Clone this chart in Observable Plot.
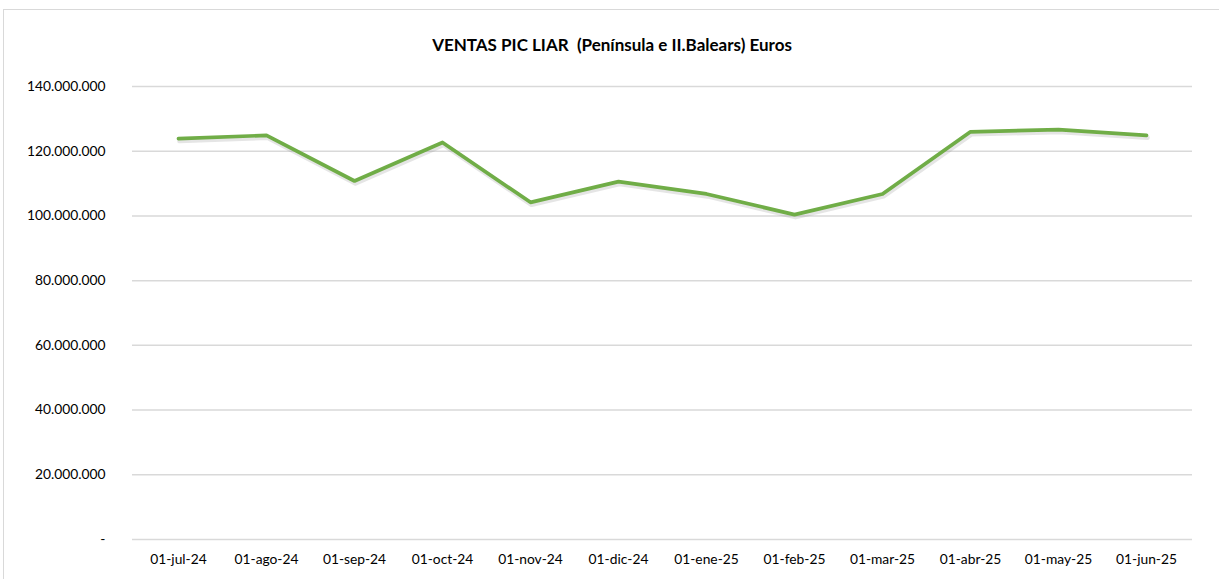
<!DOCTYPE html>
<html>
<head>
<meta charset="utf-8">
<script src="https://cdn.jsdelivr.net/npm/d3@7"></script>
<script src="https://cdn.jsdelivr.net/npm/@observablehq/plot@0.6"></script>
<style>
  html, body { margin: 0; padding: 0; background: #fff; }
  #wrap { position: relative; width: 1219px; height: 579px; overflow: hidden; }
  #frame { position: absolute; left: 3px; top: 9px; width: 1230px; height: 600px; border: 1px solid #d9d9d9; box-sizing: border-box; }
  #title { position: absolute; left: 0; top: 34px; width: 1224px; text-align: center;
           font-family: Lato, "Open Sans", sans-serif; font-weight: bold; font-size: 17px; color: #000; white-space: pre; }
  #chart { position: absolute; left: 0; top: 0; }
</style>
</head>
<body>
<div id="wrap">
  <div id="frame"></div>
  <div id="chart"></div>
  <div id="title">VENTAS PIC LIAR  (Península e II.Balears) Euros</div>
</div>
<script>
const months = ["01-jul-24","01-ago-24","01-sep-24","01-oct-24","01-nov-24","01-dic-24",
                "01-ene-25","01-feb-25","01-mar-25","01-abr-25","01-may-25","01-jun-25"];
const ventas = [123900000,124900000,110800000,122700000,104200000,110600000,
                106800000,100400000,106800000,126000000,126700000,124900000];
const yTicks = [0,20000000,40000000,60000000,80000000,100000000,120000000,140000000];

const data = months.map((m, i) => ({mes: m, valor: ventas[i]}));
const fmt = v => v === 0 ? "-" : d3.format(",")(v).replace(/,/g, ".");

const chart = Plot.plot({
  width: 1219,
  height: 579,
  marginLeft: 132,
  marginRight: 27,
  marginTop: 86,
  marginBottom: 40,
  style: { fontFamily: "Lato, 'Open Sans', sans-serif", fontSize: "13.8px", color: "#000", background: "transparent" },
  x: { type: "band", domain: months, padding: 0, label: null },
  y: { domain: [0, 140000000], label: null },
  marks: [
    Plot.gridY(yTicks, { stroke: "#d9d9d9", strokeOpacity: 1, strokeWidth: 1.5 }),
    Plot.axisY(yTicks, { tickSize: 0, tickPadding: 27, tickFormat: fmt, fill: "#000", label: null }),
    Plot.axisX({ tickSize: 0, tickPadding: 15, fill: "#000", label: null }),
    Plot.line(data, { x: "mes", y: "valor", stroke: "#888", strokeOpacity: 0.22, strokeWidth: 4.5, dx: 1, dy: 2.5, curve: "linear" }),
    Plot.line(data, { x: "mes", y: "valor", stroke: "#70AD47", strokeWidth: 3.7, strokeLinejoin: "round", strokeLinecap: "round" })
  ]
});
document.getElementById("chart").appendChild(chart);
</script>
</body>
</html>
